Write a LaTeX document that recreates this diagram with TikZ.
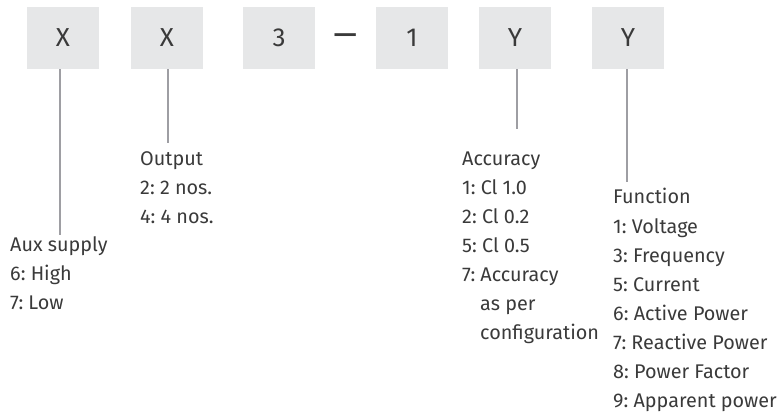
\documentclass[tikz,border=0pt]{standalone}
\usepackage{fontspec}
\setmainfont{Fira Sans}
\frenchspacing
\definecolor{boxfill}{HTML}{E6E7E8}
\definecolor{txt}{HTML}{3A3A3A}
\definecolor{ln}{HTML}{9E9EA3}
\begin{document}
\begin{tikzpicture}[x=1pt,y=-1pt,
  codebox/.style={fill=boxfill, minimum width=72pt, minimum height=62pt, inner sep=0pt, text=txt, font=\fontsize{26}{30}\selectfont},
  lbl/.style={anchor=base west, inner sep=0pt, text=txt, font=\fontsize{19.8}{24}\selectfont},
  conn/.style={draw=ln, line width=1.6pt}]
\useasboundingbox (0,0) rectangle (782,417);
% code boxes
\node[codebox] (b1) at (63,38) {X};
\node[codebox] (b2) at (167,38) {X};
\node[codebox] (b3) at (279,38) {3};
\node[text=txt, inner sep=0pt, font=\fontsize{26}{30}\selectfont] (dash) at (346,40.5) {\scalebox{1.8}[1.4]{–}};
\node[codebox] (b4) at (412,38) {1};
\node[codebox] (b5) at (515,38) {Y};
\node[codebox] (b6) at (628,38) {Y};
% connector ends
\coordinate (e1) at (60,235);
\coordinate (e2) at (168,143);
\coordinate (e3) at (517,129);
\coordinate (e4) at (627,182);
\draw[conn] (b1.south -| e1) -- (e1);
\draw[conn] (b2.south -| e2) -- (e2);
\draw[conn] (b5.south -| e3) -- (e3);
\draw[conn] (b6.south -| e4) -- (e4);
% Aux supply
\node[lbl] (aux) at (10,251) {Aux supply};
\node[lbl] (aux1) at (10,280) {6: High};
\node[lbl] (aux2) at (10,309) {7: Low};
% Output
\node[lbl] (out) at (140,165) {Output};
\node[lbl] (out1) at (140,194) {2: 2 nos.};
\node[lbl] (out2) at (140,223) {4: 4 nos.};
% Accuracy
\node[lbl] (acc) at (462,165) {Accuracy};
\node[lbl] (acc1) at (462,194) {1: Cl 1.0};
\node[lbl] (acc2) at (462,223) {2: Cl 0.2};
\node[lbl] (acc3) at (462,252) {5: Cl 0.5};
\node[lbl] (acc4) at (462,281) {7: Accuracy};
\node[lbl] (acc5) at (480,310) {as per};
\node[lbl] (acc6) at (480,339) {configuration};
% Function
\node[lbl] (fun) at (613,204) {Function};
\node[lbl] (fun1) at (613,233) {1: Voltage};
\node[lbl] (fun2) at (613,262) {3: Frequency};
\node[lbl] (fun3) at (613,291) {5: Current};
\node[lbl] (fun4) at (613,320) {6: Active Power};
\node[lbl] (fun5) at (613,349) {7: Reactive Power};
\node[lbl] (fun6) at (613,378) {8: Power Factor};
\node[lbl] (fun7) at (613,407) {9: Apparent power};
\end{tikzpicture}
\end{document}
